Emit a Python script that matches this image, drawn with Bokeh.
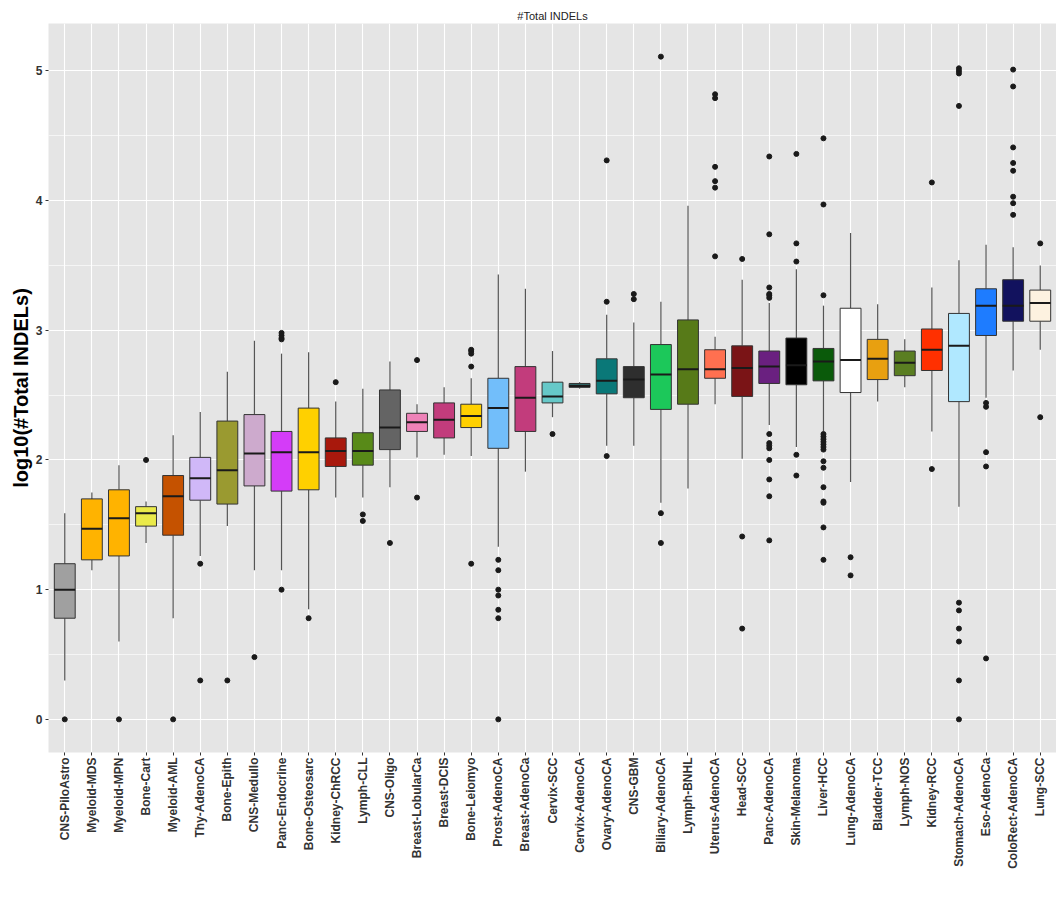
import math
from bokeh.plotting import figure
from bokeh.models import FactorRange, Range1d, SingleIntervalTicker, ColumnDataSource
from bokeh.embed import file_html
from bokeh.resources import INLINE

# Tumour types, ordered by median log10 INDEL burden
cancer_types = [
    "CNS-PiloAstro", "Myeloid-MDS", "Myeloid-MPN", "Bone-Cart", "Myeloid-AML",
    "Thy-AdenoCA", "Bone-Epith", "CNS-Medullo", "Panc-Endocrine", "Bone-Osteosarc",
    "Kidney-ChRCC", "Lymph-CLL", "CNS-Oligo", "Breast-LobularCa", "Breast-DCIS",
    "Bone-Leiomyo", "Prost-AdenoCA", "Breast-AdenoCa", "Cervix-SCC", "Cervix-AdenoCA",
    "Ovary-AdenoCA", "CNS-GBM", "Biliary-AdenoCA", "Lymph-BNHL", "Uterus-AdenoCA",
    "Head-SCC", "Panc-AdenoCA", "Skin-Melanoma", "Liver-HCC", "Lung-AdenoCA",
    "Bladder-TCC", "Lymph-NOS", "Kidney-RCC", "Stomach-AdenoCA", "Eso-AdenoCa",
    "ColoRect-AdenoCA", "Lung-SCC",
]

type_colors = [
    "#A0A0A0", "#FFB300", "#FFB300", "#EAEA4A", "#C55200",
    "#D0B8F8", "#9A9A30", "#CDAACD", "#D43CF8", "#FFD000",
    "#A8180C", "#588A18", "#646464", "#EE82B8", "#C23C7C",
    "#FFD000", "#72BEFA", "#C23C7C", "#66C8C8", "#2F6262",
    "#0A7878", "#2E2E2E", "#1CC85A", "#577A18", "#FF7050",
    "#7A1416", "#6A2080", "#000000", "#0A5A0A", "#FFFFFF",
    "#E8A010", "#5A7E22", "#FF3000", "#B0E8FF", "#1E7CFF",
    "#12125E", "#FDF2E0",
]

# Five-number summaries (log10 of total INDEL count)
whisker_low = [0.30, 1.15, 0.60, 1.36, 0.78, 1.26, 1.49, 1.15, 1.15, 0.85,
               1.71, 1.71, 1.79, 2.02, 2.04, 2.03, 1.33, 1.91, 2.33, 2.55,
               2.11, 2.11, 1.67, 1.78, 2.43, 2.01, 2.27, 2.10, 2.22, 1.83,
               2.45, 2.56, 2.22, 1.64, 2.48, 2.69, 2.85]
quartile_1 = [0.78, 1.23, 1.26, 1.49, 1.42, 1.69, 1.66, 1.80, 1.76, 1.77,
              1.95, 1.96, 2.08, 2.22, 2.17, 2.25, 2.09, 2.22, 2.44, 2.56,
              2.51, 2.48, 2.39, 2.43, 2.63, 2.49, 2.59, 2.58, 2.61, 2.52,
              2.62, 2.65, 2.69, 2.45, 2.96, 3.07, 3.07]
medians = [1.00, 1.47, 1.55, 1.59, 1.72, 1.86, 1.92, 2.05, 2.06, 2.06,
           2.07, 2.07, 2.25, 2.29, 2.31, 2.34, 2.40, 2.48, 2.49, 2.57,
           2.61, 2.62, 2.66, 2.70, 2.70, 2.71, 2.72, 2.73, 2.76, 2.77,
           2.78, 2.75, 2.85, 2.88, 3.19, 3.19, 3.21]
quartile_3 = [1.20, 1.70, 1.77, 1.64, 1.88, 2.02, 2.30, 2.35, 2.22, 2.40,
              2.17, 2.21, 2.54, 2.36, 2.44, 2.43, 2.63, 2.72, 2.60, 2.59,
              2.78, 2.72, 2.89, 3.08, 2.85, 2.88, 2.84, 2.94, 2.86, 3.17,
              2.93, 2.84, 3.01, 3.13, 3.32, 3.39, 3.31]
whisker_high = [1.59, 1.75, 1.96, 1.68, 2.19, 2.37, 2.68, 2.92, 2.82, 2.83,
                2.45, 2.55, 2.76, 2.43, 2.56, 2.63, 3.43, 3.32, 2.84, 2.60,
                3.12, 3.06, 3.22, 3.96, 2.95, 3.39, 3.21, 3.47, 3.19, 3.75,
                3.20, 2.93, 3.33, 3.54, 3.66, 3.64, 3.50]

# Samples beyond 1.5 IQR, one list per tumour type
outliers = [
    [0.0], [], [0.0], [2.0], [0.0],
    [1.20, 0.30], [0.30], [0.48], [1.00, 2.93, 2.94, 2.96, 2.98], [0.78],
    [2.60], [1.58, 1.53], [1.36], [2.77, 1.71], [],
    [2.85, 2.84, 2.82, 2.72, 1.20], [1.23, 1.15, 1.00, 0.955, 0.845, 0.78, 0.0], [], [2.20], [],
    [4.31, 3.22, 2.03], [3.28, 3.24], [5.11, 1.59, 1.36], [], [4.82, 4.79, 4.26, 4.15, 4.10, 3.57],
    [3.55, 1.41, 0.70],
    [4.34, 3.74, 3.33, 3.28, 3.27, 3.25, 2.20, 2.13, 2.11, 2.09, 2.00, 1.85, 1.72, 1.38],
    [4.36, 3.67, 3.53, 2.04, 1.88],
    [4.48, 3.97, 3.27, 2.20, 2.18, 2.16, 2.14, 2.12, 2.10, 2.08, 1.99, 1.94, 1.79, 1.68, 1.67, 1.48, 1.23],
    [1.25, 1.11],
    [], [], [4.14, 1.93],
    [5.02, 5.00, 4.98, 4.73, 0.90, 0.84, 0.70, 0.60, 0.30, 0.0],
    [2.44, 2.41, 2.06, 1.95, 0.47],
    [5.01, 4.88, 4.41, 4.29, 4.23, 4.03, 3.98, 3.89],
    [3.67, 2.33],
]

FONT = "Liberation Sans"
n = len(cancer_types)

boxes = ColumnDataSource(dict(
    cat=cancer_types, color=type_colors, lo=whisker_low, q1=quartile_1,
    med=medians, q3=quartile_3, hi=whisker_high,
))
out_x = [c for c, vals in zip(cancer_types, outliers) for _ in vals]
out_y = [v for vals in outliers for v in vals]
points = ColumnDataSource(dict(cat=out_x, val=out_y))

# 0.6 category units of padding on each side of the outer boxes
x_range = FactorRange(factors=cancer_types, range_padding=0.2 / n,
                      range_padding_units="percent")
y_lo, y_hi = 0.0, 5.11
pad = 0.05 * (y_hi - y_lo)
p = figure(
    x_range=x_range, y_range=Range1d(y_lo - pad, y_hi + pad),
    frame_width=1008, frame_height=729,
    output_backend="svg", toolbar_location=None,
    title="#Total INDELs",
    min_border_left=48, min_border_right=0, min_border_top=23, min_border_bottom=153,
)

# panel styling
p.background_fill_color = "#E5E5E5"
p.border_fill_color = "white"
p.outline_line_color = None
p.title.align = "center"
p.title.text_font = FONT
p.title.text_font_size = "11px"
p.title.text_font_style = "normal"
p.title.text_color = "#222222"
p.title.standoff = 4

p.xgrid.grid_line_color = "white"
p.xgrid.grid_line_width = 1.1
p.ygrid.grid_line_color = "white"
p.ygrid.grid_line_width = 1.1
p.ygrid.minor_grid_line_color = "white"
p.ygrid.minor_grid_line_width = 0.6

p.yaxis.ticker = SingleIntervalTicker(interval=1, num_minor_ticks=2)
p.yaxis.axis_label = "log10(#Total INDELs)"
p.yaxis.axis_label_text_font = FONT
p.yaxis.axis_label_text_font_size = "20px"
p.yaxis.axis_label_text_font_style = "bold"
p.yaxis.axis_label_text_color = "black"
p.yaxis.axis_label_standoff = 1

for ax in (p.xaxis[0], p.yaxis[0]):
    ax.axis_line_color = None
    ax.major_tick_line_color = "#333333"
    ax.major_tick_in = 0
    ax.major_tick_out = 3
    ax.minor_tick_line_color = None
    ax.major_label_text_font = FONT
    ax.major_label_text_font_size = "12px"
    ax.major_label_text_font_style = "bold"
    ax.major_label_text_color = "#333333"
    ax.major_label_standoff = 2

p.xaxis.major_label_orientation = math.pi / 2

# whiskers
p.segment(x0="cat", y0="q3", x1="cat", y1="hi", source=boxes,
          line_color="#555555", line_width=1.2)
p.segment(x0="cat", y0="lo", x1="cat", y1="q1", source=boxes,
          line_color="#555555", line_width=1.2)
# interquartile boxes
p.vbar(x="cat", bottom="q1", top="q3", width=0.77, source=boxes,
       fill_color="color", line_color="#333333", line_width=1)
# medians
p.vbar(x="cat", bottom="med", top="med", width=0.77, source=boxes,
       fill_alpha=0, line_color="#1A1A1A", line_width=2)
# outlying samples
p.scatter(x="cat", y="val", source=points, size=5,
          fill_color="#1A1A1A", line_color="#1A1A1A")

open("out.html", "w").write(file_html(p, INLINE))
